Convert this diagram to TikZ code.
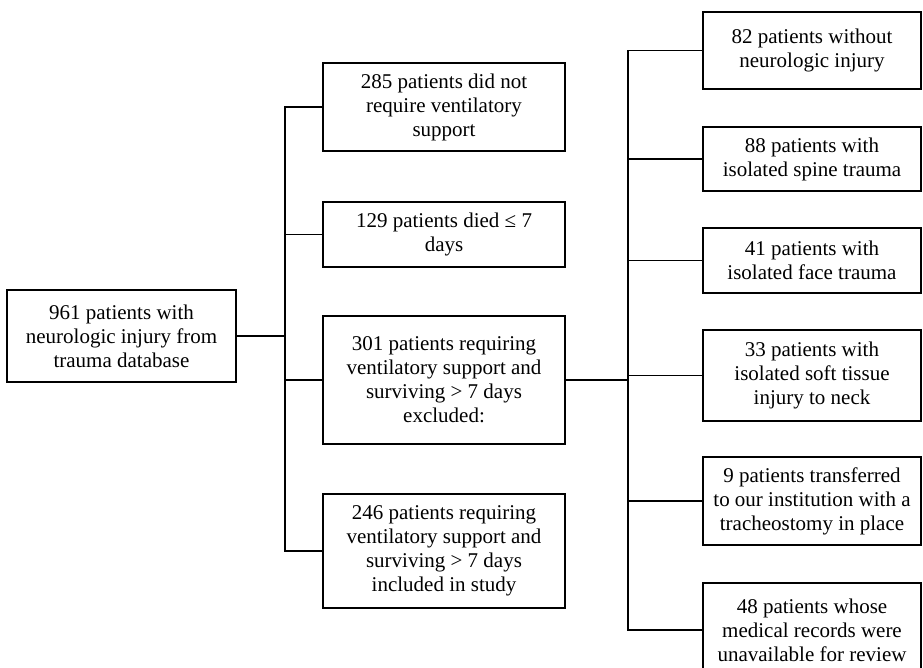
\documentclass[tikz,border=0pt]{standalone}
\usepackage{fontspec}
\setmainfont{Liberation Serif}
\begin{document}
\begin{tikzpicture}[x=1pt,y=-1pt,
    box/.style={draw,line width=2.8pt,align=center,inner sep=0pt,font=\fontsize{21}{24}\selectfont},
    mid/.style={box,minimum width=242pt},
    side/.style={box,minimum width=218pt},
    link/.style={line width=1.3pt}]
    \useasboundingbox(0,0)rectangle(923,667);
    
    \coordinate(T1)at(285,0);
    \coordinate(T2)at(628,0);
    
    \node[box,minimum width=229pt,minimum height=92pt](L)at(121.5,336){961 patients with\\neurologic injury from\\trauma database};
    
    \node[mid,minimum height=88pt](M1)at(444,107){285 patients did not\\require ventilatory\\support};
    \node[mid,minimum height=65pt](M2)at(444,234.5){129 patients died ≤ 7\\days};
    \node[mid,minimum height=128pt](M3)at(444,380){301 patients requiring\\ventilatory support and\\surviving > 7 days\\excluded:};
    \node[mid,minimum height=114pt](M4)at(444,551){246 patients requiring\\ventilatory support and\\surviving > 7 days\\included in study};
    
    \node[side,minimum height=77pt](R1)at(812,50.5){82 patients without\\neurologic injury};
    \node[side,minimum height=64pt](R2)at(812,159){88 patients with\\isolated spine trauma};
    \node[side,minimum height=65pt](R3)at(812,260.5){41 patients with\\isolated face trauma};
    \node[side,minimum height=91pt](R4)at(812,375.5){33 patients with\\isolated soft tissue\\injury to neck};
    \node[side,minimum height=88pt](R5)at(812,501){9 patients transferred\\to our institution with a\\tracheostomy in place};
    \node[side,minimum height=94pt](R6)at(812,630){48 patients whose\\medical records were\\unavailable for review};
    
    % first split
    \draw[link](L.east)--(L.east-|T1);
    \draw[link](M1.west)--(M1.west-|T1)--(M4.west-|T1)--(M4.west);
    \draw[link](M2.west-|T1)--(M2.west);
    \draw[link](M3.west-|T1)--(M3.west);
    
    % excluded patients
    \draw[link](M3.east)--(M3.east-|T2);
    \draw[link](R1.west)--(R1.west-|T2)--(R6.west-|T2)--(R6.west);
    \foreach \n in {R2,R3,R4,R5}
        \draw[link](\n.west-|T2)--(\n.west);
\end{tikzpicture}
\end{document}
